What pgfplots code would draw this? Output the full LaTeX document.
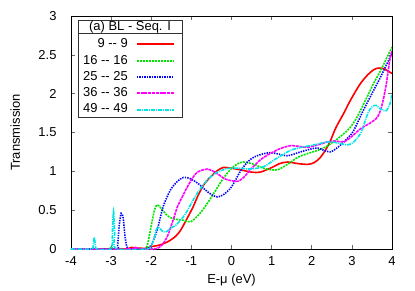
\documentclass[border=0pt]{standalone}
\usepackage{pgfplots}
\pgfplotsset{compat=1.18}
\usepackage{fontspec}
\setmainfont{Liberation Sans}
\definecolor{gpred}{RGB}{255,0,0}
\definecolor{gpgreen}{RGB}{0,230,0}
\definecolor{gpblue}{RGB}{0,0,255}
\definecolor{gpmag}{RGB}{255,0,255}
\definecolor{gpcyan}{RGB}{0,230,230}
\begin{document}
\begin{tikzpicture}
\begin{axis}[
  scale only axis, width=321bp, height=233bp,
  xmin=-4, xmax=4, ymin=0, ymax=3,
  xtick={-4,-3,...,4}, ytick={0,0.5,...,3},
  tick align=inside, major tick length=4bp,
  axis line style={line width=0.8bp},
  every tick/.style={line width=0.6bp, black!60},
  /pgf/number format/assume math mode=true,
  font=\fontsize{13}{15}\selectfont,
  tick label style={font=\fontsize{13}{15}\selectfont},
  y tick label style={xshift=-11bp},
  x tick label style={yshift=-4bp},
  xlabel={E-μ (eV)}, ylabel={Transmission},
  xlabel style={at={(axis description cs:0.5,-0.133)}, anchor=center},
  ylabel style={at={(axis description cs:-0.174,0.5)}, anchor=center},
  legend cell align=right, legend plot pos=right,
  legend image code/.code={\draw[#1, line width=2bp] (0bp,0.3bp) -- (37bp,0.3bp);},
  legend style={draw=none, fill=none, at={(axis description cs:0.3396,0.927)}, anchor=north east,
    inner sep=5bp, row sep=3.3bp, column sep=7bp,
    nodes={inner sep=1bp, text height=8.5bp, text depth=2.5bp},
    font=\fontsize{13}{15}\selectfont},
]
\addplot[color=gpred, line width=1.6bp, smooth, tension=0.5] coordinates {
(-4,0) (-2.7,0) (-2.5,0.02) (-2.3,0.01) (-2.1,0.01) (-2.0,0.03) (-1.8,0.05) (-1.6,0.09) (-1.4,0.16) (-1.27,0.24) (-1.1,0.4) (-0.95,0.55) (-0.85,0.67) (-0.7,0.82) (-0.52,0.93) (-0.35,1.01) (-0.2,1.05) (0,1.04) (0.22,1.02) (0.5,0.99) (0.72,0.99) (1.05,1.06) (1.2,1.1) (1.4,1.12) (1.65,1.1) (1.9,1.09) (2.05,1.11) (2.2,1.17) (2.35,1.28) (2.47,1.4) (2.6,1.56) (2.8,1.75) (2.97,1.92) (3.2,2.12) (3.39,2.24) (3.55,2.31) (3.67,2.33) (3.8,2.32) (4,2.26)};
\addlegendentry{9 -{}- 9}
\addplot[color=gpgreen, line width=1.6bp, dash pattern=on 2bp off 1bp, smooth, tension=0.5] coordinates {
(-4,0) (-3.1,0) (-3.0,0.03) (-2.9,0) (-2.2,0) (-2.1,0.05) (-2.0,0.3) (-1.92,0.5) (-1.85,0.57) (-1.75,0.52) (-1.6,0.43) (-1.45,0.39) (-1.2,0.37) (-1.02,0.35) (-0.8,0.45) (-0.6,0.59) (-0.4,0.75) (-0.27,0.86) (-0.1,0.98) (0.05,1.06) (0.2,1.11) (0.3,1.12) (0.5,1.1) (0.8,1.04) (1.0,1.02) (1.15,1.02) (1.4,1.09) (1.65,1.18) (1.9,1.23) (2.15,1.27) (2.4,1.33) (2.72,1.45) (2.95,1.56) (3.13,1.7) (3.39,1.97) (3.55,2.14) (3.72,2.3) (3.85,2.44) (4,2.6)};
\addlegendentry{16 -{}- 16}
\addplot[color=gpblue, line width=1.6bp, dash pattern=on 1.4bp off 1.1bp, smooth, tension=0.5] coordinates {
(-4,0) (-2.9,0) (-2.84,0.05) (-2.8,0.3) (-2.75,0.46) (-2.7,0.4) (-2.65,0.15) (-2.6,0.02) (-2.5,0) (-2.15,0) (-2.0,0.05) (-1.85,0.25) (-1.7,0.55) (-1.52,0.76) (-1.35,0.87) (-1.2,0.92) (-1.05,0.91) (-0.85,0.85) (-0.65,0.76) (-0.5,0.7) (-0.35,0.67) (-0.2,0.7) (0,0.8) (0.22,1.0) (0.4,1.12) (0.55,1.18) (0.75,1.22) (0.97,1.24) (1.2,1.22) (1.4,1.2) (1.72,1.25) (2.0,1.29) (2.15,1.3) (2.3,1.27) (2.47,1.25) (2.6,1.29) (2.72,1.34) (2.9,1.43) (3.05,1.53) (3.3,1.8) (3.55,2.05) (3.72,2.22) (4,2.52)};
\addlegendentry{25 -{}- 25}
\addplot[color=gpmag, line width=1.6bp, dash pattern=on 3bp off 0.8bp, smooth, tension=0.5] coordinates {
(-4,0) (-2.55,0) (-2.4,0.02) (-2.25,0) (-1.95,0) (-1.77,0.03) (-1.6,0.16) (-1.45,0.38) (-1.35,0.54) (-1.2,0.7) (-1.1,0.8) (-0.95,0.93) (-0.85,0.99) (-0.7,1.02) (-0.6,1.03) (-0.45,1.0) (-0.3,0.95) (-0.15,0.9) (0,0.88) (0.15,0.87) (0.3,0.92) (0.47,1.02) (0.7,1.14) (0.9,1.21) (1.2,1.29) (1.47,1.33) (1.7,1.32) (1.9,1.31) (2.15,1.34) (2.4,1.38) (2.6,1.39) (2.8,1.38) (3.0,1.45) (3.22,1.55) (3.45,1.62) (3.64,1.7) (3.75,1.85) (3.85,2.1) (3.95,2.45) (4,2.55)};
\addlegendentry{36 -{}- 36}
\addplot[color=gpcyan, line width=1.6bp, dash pattern=on 4bp off 1bp on 1bp off 1bp, smooth, tension=0.5] coordinates {
(-4,0) (-3.5,0) (-3.45,0.04) (-3.42,0.15) (-3.39,0.04) (-3.35,0) (-3.0,0) (-2.97,0.2) (-2.94,0.49) (-2.91,0.2) (-2.87,0) (-2.1,0) (-2.0,0.05) (-1.95,0.1) (-1.88,0.24) (-1.82,0.28) (-1.7,0.22) (-1.6,0.23) (-1.52,0.27) (-1.4,0.3) (-1.27,0.37) (-1.15,0.45) (-1.02,0.57) (-0.9,0.68) (-0.77,0.78) (-0.65,0.86) (-0.52,0.93) (-0.35,0.99) (-0.2,1.02) (-0.05,1.04) (0.2,1.04) (0.47,1.03) (0.8,1.06) (1.1,1.16) (1.47,1.27) (1.75,1.31) (2.05,1.34) (2.3,1.37) (2.47,1.38) (2.7,1.36) (2.9,1.34) (3.05,1.38) (3.22,1.49) (3.3,1.6) (3.4,1.75) (3.5,1.83) (3.6,1.85) (3.7,1.81) (3.85,1.78) (3.95,1.87) (4,2.0)};
\addlegendentry{49 -{}- 49}
\draw[line width=0.8bp, black!80] (axis description cs:0.0218,0.983) rectangle (axis description cs:0.3458,0.5665);
\draw[line width=0.8bp, black!80] (axis description cs:0.0218,0.927) -- (axis description cs:0.3458,0.927);
\node[font=\fontsize{13}{15}\selectfont, anchor=center] at (axis description cs:0.184,0.953) {(a) BL - Seq. I};
\end{axis}
\path (current axis.south west) ++(-71bp,-42bp) rectangle ++(415bp,291bp);
\end{tikzpicture}
\end{document}
